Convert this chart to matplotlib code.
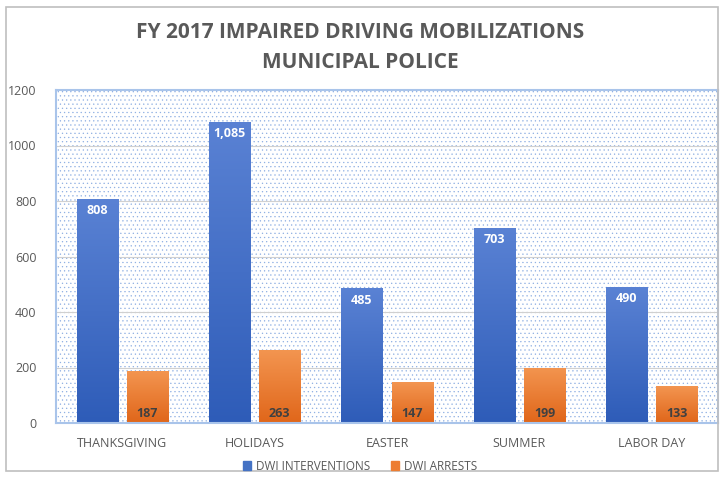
import matplotlib.pyplot as plt
import matplotlib.patches as patches
import numpy as np
from matplotlib.colors import LinearSegmentedColormap

categories = ["THANKSGIVING", "HOLIDAYS", "EASTER", "SUMMER", "LABOR DAY"]
interventions = [808, 1085, 485, 703, 490]
arrests = [187, 263, 147, 199, 133]
series_names = ["DWI INTERVENTIONS", "DWI ARRESTS"]

plt.rcParams['font.family'] = ['Open Sans', 'DejaVu Sans']
plt.rcParams['hatch.linewidth'] = 0.4
gray = "#595959"

fig = plt.figure(figsize=(7.2, 4.79), dpi=100)
ax = fig.add_axes([56 / 720, 1 - 423 / 479, 662 / 720, 333 / 479])

# outer chart border
fig.patches.append(patches.Rectangle((6 / 720, 8 / 479), 712 / 720, 464 / 479,
                                     transform=fig.transFigure, fill=False,
                                     edgecolor="#bfbfbf", linewidth=1.2))

x = np.arange(len(categories))
w = 0.31
off = 0.19

# dotted background
bg = patches.Rectangle((0, 0), 1, 1, transform=ax.transAxes, facecolor="white",
                       edgecolor="#8fb0e3", hatch="....", linewidth=0, zorder=0)
ax.add_patch(bg)

for y in range(200, 1200, 200):
    ax.axhline(y, color="#d0d0d0", linewidth=0.8, zorder=1)

blue_cmap = LinearSegmentedColormap.from_list("b", ["#2e5cb8", "#5a82d4"])
orange_cmap = LinearSegmentedColormap.from_list("o", ["#e0661a", "#f39550"])
grad = np.linspace(0, 1, 256).reshape(-1, 1)


def gradient_bars(xs, vals, cmap):
    bars = ax.bar(xs, vals, w, color="none", edgecolor="none", zorder=2)
    for b in bars:
        x0, y0 = b.get_x(), b.get_y()
        im = ax.imshow(grad, cmap=cmap, origin="lower", aspect="auto",
                       extent=[x0, x0 + b.get_width(), y0, y0 + b.get_height()],
                       zorder=2)
        im.set_clip_path(b)
    return bars


b1 = gradient_bars(x - off, interventions, blue_cmap)
b2 = gradient_bars(x + off, arrests, orange_cmap)
ax.set_xlim(-0.5, len(categories) - 0.5)
ax.set_ylim(0, 1200)

for xi, v in zip(x - off, interventions):
    ax.text(xi, v - 42, f"{v:,}", ha="center", va="center", color="white",
            fontsize=9, fontweight="bold", zorder=3)
for xi, v in zip(x + off, arrests):
    ax.text(xi, 35, f"{v:,}", ha="center", va="center", color="#404040",
            fontsize=9, fontweight="bold", zorder=3)

for s in ax.spines.values():
    s.set_color("#a9c4ea")
    s.set_linewidth(1.5)

ax.set_xticks(x)
ax.set_xticklabels(categories)
ax.set_yticks(range(0, 1201, 200))
ax.tick_params(axis="both", length=0, labelsize=9, labelcolor=gray)
ax.tick_params(axis="x", pad=10)
ax.tick_params(axis="y", pad=14)

fig.text(0.5, 1 - 32 / 479, "FY 2017 IMPAIRED DRIVING MOBILIZATIONS", ha="center",
         va="center", fontsize=15, fontweight="bold", color=gray)
fig.text(0.5, 1 - 62 / 479, "MUNICIPAL POLICE", ha="center", va="center",
         fontsize=15, fontweight="bold", color=gray)

handles = [patches.Patch(color="#4472c4"), patches.Patch(color="#ed7d31")]
fig.legend(handles, series_names, loc="center", bbox_to_anchor=(0.5, 1 - 466 / 479),
           ncol=2, frameon=False, fontsize=8.5, labelcolor=gray,
           handlelength=0.7, handleheight=0.7, handletextpad=0.4, columnspacing=1.8)

fig.savefig("out.png", dpi=100)
